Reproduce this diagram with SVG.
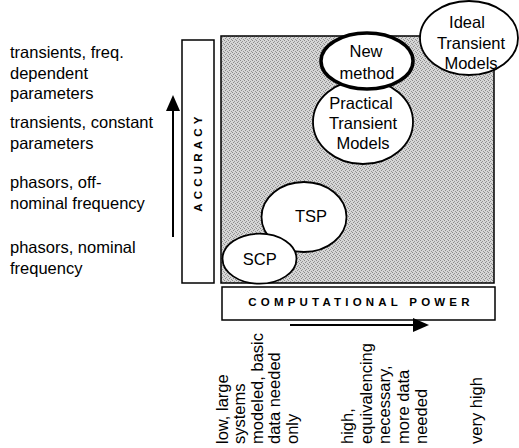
<svg xmlns="http://www.w3.org/2000/svg" width="519" height="448" viewBox="0 0 519 448">
<style>
text{font-family:"Liberation Sans",Arial,sans-serif;fill:#000}
.lbl{font-size:16.5px}
.nd{font-size:16.5px;text-anchor:middle}
.ax{font-size:11.5px;font-weight:bold;letter-spacing:4.2px}
.ell{fill:#fff;stroke:#000;stroke-width:1.8}
.box{fill:#fff;stroke:#000;stroke-width:1.5}
.conn{stroke:#000;stroke-width:2;fill:none}
</style>
<defs>
<pattern id="stip" width="4" height="4" patternUnits="userSpaceOnUse">
<rect width="4" height="4" fill="#d6d6d6"/>
<rect x="0" y="0" width="1" height="1" fill="#8a8a8a"/>
<rect x="2" y="1" width="1" height="1" fill="#959595"/>
<rect x="1" y="2" width="1" height="1" fill="#8a8a8a"/>
<rect x="3" y="3" width="1" height="1" fill="#959595"/>
</pattern>
</defs>
<rect width="519" height="448" fill="#fff"/>

<g id="plot-area">
<rect x="221" y="36" width="273" height="247" fill="url(#stip)" stroke="#000" stroke-width="1.5"/>
</g>

<g id="accuracy-axis">
<rect class="box" x="182" y="40" width="32" height="243"/>
<text class="ax" transform="translate(202,162) rotate(-90)" text-anchor="middle">ACCURACY</text>
</g>

<g id="power-axis">
<rect class="box" x="222" y="287" width="273" height="33"/>
<text class="ax" x="361" y="306" text-anchor="middle">COMPUTATIONAL POWER</text>
</g>

<g id="connectors">
<line class="conn" x1="173" y1="237" x2="173" y2="108"/>
<polygon points="173,95 166,111 180,111" fill="#000"/>
<line class="conn" x1="290" y1="325" x2="415" y2="325"/>
<polygon points="429,325 413,318 413,332" fill="#000"/>
</g>

<g id="node-practical">
<ellipse class="ell" cx="363" cy="122" rx="50" ry="42"/>
<text class="nd" x="361" y="108.5">Practical</text>
<text class="nd" x="363" y="128.5">Transient</text>
<text class="nd" x="363" y="148.5">Models</text>
</g>

<g id="node-new-method">
<ellipse cx="367" cy="61" rx="46" ry="28" fill="#fff" stroke="#000" stroke-width="3.5"/>
<text class="nd" x="366" y="57">New</text>
<text class="nd" x="367" y="79">method</text>
</g>

<g id="node-ideal">
<ellipse class="ell" cx="469" cy="38" rx="49" ry="37"/>
<text class="nd" x="467" y="28">Ideal</text>
<text class="nd" x="471" y="49">Transient</text>
<text class="nd" x="471" y="69">Models</text>
</g>

<g id="node-tsp">
<ellipse class="ell" cx="304" cy="217" rx="42.5" ry="35"/>
<text class="nd" x="311" y="221.5">TSP</text>
</g>

<g id="node-scp">
<ellipse class="ell" cx="259.5" cy="258.7" rx="37" ry="25"/>
<text class="nd" x="259.7" y="265">SCP</text>
</g>

<g id="accuracy-labels" class="lbl">
<text x="10" y="58">transients, freq.</text>
<text x="10" y="78.5">dependent</text>
<text x="10" y="99">parameters</text>
<text x="10" y="128">transients, constant</text>
<text x="10" y="148.5">parameters</text>
<text x="10" y="188">phasors, off-</text>
<text x="10" y="208.5">nominal frequency</text>
<text x="10" y="253">phasors, nominal</text>
<text x="10" y="273.5">frequency</text>
</g>

<g id="power-labels" class="lbl">
<text transform="translate(227.5,444) rotate(-90)">low, large</text>
<text transform="translate(245,444) rotate(-90)">systems</text>
<text transform="translate(262.5,444) rotate(-90)">modeled, basic</text>
<text transform="translate(280,444) rotate(-90)">data needed</text>
<text transform="translate(297.5,444) rotate(-90)">only</text>
<text transform="translate(353,444) rotate(-90)">high,</text>
<text transform="translate(371.5,444) rotate(-90)">equivalencing</text>
<text transform="translate(390,444) rotate(-90)">necessary,</text>
<text transform="translate(408.5,444) rotate(-90)">more data</text>
<text transform="translate(427,444) rotate(-90)">needed</text>
<text transform="translate(482,444) rotate(-90)">very high</text>
</g>
</svg>
